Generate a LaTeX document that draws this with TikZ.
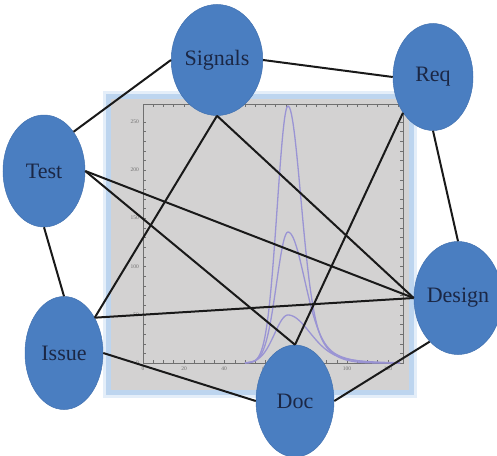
\documentclass[tikz,border=0pt]{standalone}
\usepackage{fontspec}
\setmainfont{Liberation Serif}
\usetikzlibrary{shapes.geometric}
\definecolor{nodeblue}{HTML}{4A7EC1}
\definecolor{nodeedge}{HTML}{4171B0}
\definecolor{nodetext}{HTML}{1B2745}
\definecolor{glowout}{HTML}{E4EEF9}
\definecolor{glowin}{HTML}{BDD5EF}
\definecolor{plotbg}{HTML}{D3D2D2}
\definecolor{curve}{HTML}{9A94D4}
\definecolor{axisgray}{HTML}{707070}
\tikzset{
  topic/.style={ellipse, fill=nodeblue, draw=nodeedge, line width=0.5pt,
    minimum width=80pt, minimum height=111pt, inner sep=0pt,
    font=\fontsize{22}{25}\selectfont, text=nodetext},
  link/.style={draw=black!90, line width=2pt},
  peak/.style={draw=curve, line width=1.3pt, smooth},
  ticklab/.style={font=\fontsize{5.5}{6}\selectfont, text=axisgray, inner sep=0pt}
}
\begin{document}
\begin{tikzpicture}[x=1pt,y=-1pt]
\useasboundingbox (0,0) rectangle (497,455);
% plot background
\fill[glowout] (103,91) rectangle (417,398);
\fill[glowin] (106,94) rectangle (414,395);
\fill[plotbg] (111,99) rectangle (409,390);
% axes frame
\draw[axisgray, line width=0.6pt] (143,104) rectangle (403,363);
\foreach \t in {0,...,25} {\draw[axisgray, line width=0.3pt] (143,{363-\t*9.65}) -- (146,{363-\t*9.65});}
\foreach \t in {0,...,25} {\draw[axisgray, line width=0.3pt] (403,{363-\t*9.65}) -- (400,{363-\t*9.65});}
\foreach \t in {0,...,25} {\draw[axisgray, line width=0.3pt] ({143+\t*10.2},363) -- ({143+\t*10.2},360);}
\foreach \t in {0,...,25} {\draw[axisgray, line width=0.3pt] ({143+\t*10.2},104) -- ({143+\t*10.2},107);}
\foreach \v/\p in {0/143,20/184,40/224,60/265,80/306,100/347,120/388} {\node[ticklab] (xl\v) at (\p,369) {\v};}
\foreach \v/\p in {0/363,50/315,100/267,150/218,200/170,250/122} {\node[ticklab, anchor=east] (yl\v) at (139,\p) {\v};}
% curves
\foreach \A/\sl/\sr in {257/10.8/12.5, 131/11.5/16, 48/13.5/21} {
  \draw[peak] plot[domain=245:288, samples=40] (\x, {363-\A*exp(max(-20,-((\x-288)^2)/(2*\sl*\sl)))})
    -- plot[domain=288:400, samples=70] (\x, {363-\A*(0.82*exp(max(-20,-((\x-288)^2)/(2*\sr*\sr)))+0.18*exp(max(-20,-((\x-288)^2)/(8*\sr*\sr))))});
}
% nodes
\node[topic] (signals) at (217,60) {Signals};
\node[topic, minimum height=107pt] (req) at (433,77) {Req};
\node[topic, minimum width=82pt, minimum height=112pt] (test) at (44,171) {Test};
\node[topic, minimum height=113pt] (design) at (458,298) {Design};
\node[topic, minimum width=78pt, minimum height=113pt] (issue) at (64,353) {Issue};
\node[topic, minimum width=78pt, minimum height=112pt] (doc) at (295,401) {Doc};
% links
\draw[link] (test.53) -- (signals.west);
\draw[link] (signals.east) -- (req.west);
\draw[link] (req.south) -- (design.north);
\draw[link] (design.237) -- (doc.east);
\draw[link] (doc.west) -- (issue.east);
\draw[link] (issue.north) -- (test.south);
\draw[link] (signals.south) -- (issue.49);
\draw[link] (signals.south) -- (design.west);
\draw[link] (test.east) -- (design.west);
\draw[link] (test.east) -- (doc.north);
\draw[link] (req.230) -- (doc.north);
\draw[link] (issue.49) -- (design.west);
\end{tikzpicture}
\end{document}
